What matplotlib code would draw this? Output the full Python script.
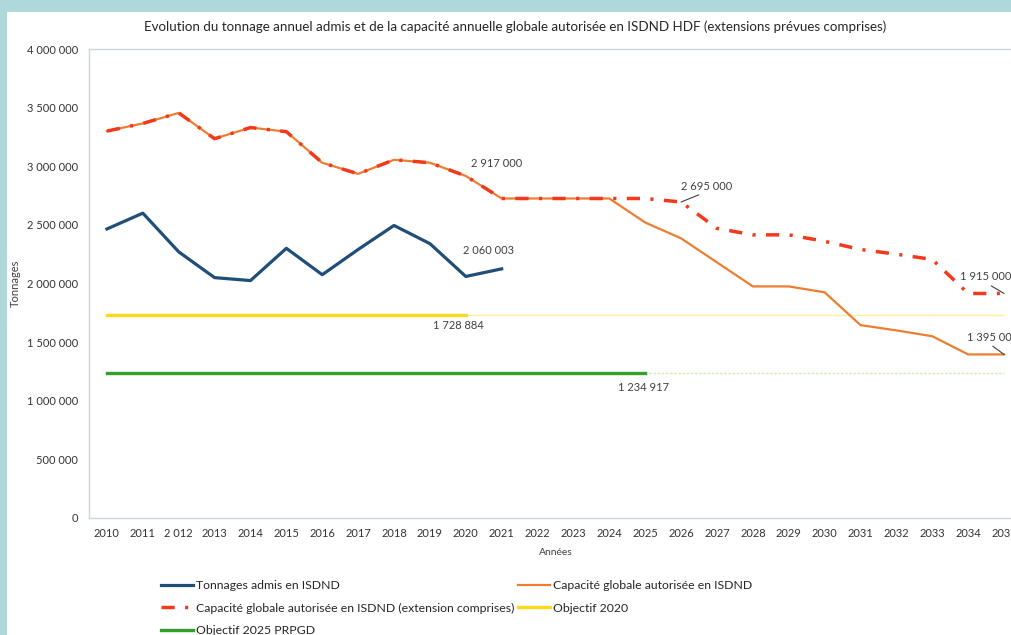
import numpy as np
import matplotlib
matplotlib.use("Agg")
import matplotlib.pyplot as plt
from matplotlib.patches import Rectangle
from matplotlib.ticker import FuncFormatter

# years shown on the x axis
years = list(range(2010, 2036))
year_labels = [str(y) for y in years]
year_labels[2] = "2 012"

# tonnages admis en ISDND (2010-2021)
tonnage_years = list(range(2010, 2022))
tonnage = [2465000, 2600000, 2270000, 2050000, 2025000, 2300000,
           2075000, 2290000, 2495000, 2340000, 2060003, 2125000]

# capacité globale autorisée en ISDND (2010-2035)
capacite = [3300000, 3365000, 3455000, 3235000, 3330000, 3295000,
            3030000, 2935000, 3055000, 3030000, 2917000, 2725000,
            2725000, 2725000, 2725000, 2520000, 2385000, 2180000,
            1975000, 1975000, 1925000, 1645000, 1600000, 1550000,
            1395000, 1395000]

# capacité globale autorisée, extensions comprises (2010-2035)
capacite_ext = [3300000, 3365000, 3455000, 3235000, 3330000, 3295000,
                3030000, 2935000, 3055000, 3030000, 2917000, 2725000,
                2725000, 2725000, 2725000, 2725000, 2695000, 2470000,
                2415000, 2415000, 2360000, 2290000, 2250000, 2205000,
                1915000, 1915000]

objectif_2020 = 1728884
objectif_2025 = 1234917
obj2020_years = list(range(2010, 2021))
obj2025_years = list(range(2010, 2026))

TXT = "#404040"
plt.rcParams['font.family'] = ['Lato', 'DejaVu Sans']

fig = plt.figure(figsize=(10.12, 6.35), dpi=100, facecolor="#afd8da")
fig.add_artist(Rectangle((7 / 1012, 0), 1, 1 - 12 / 635, transform=fig.transFigure,
                         facecolor="white", edgecolor="none", zorder=0))

ax = fig.add_axes([89 / 1012, 1 - 518 / 635, 933 / 1012, 469 / 635])
ax.set_facecolor("white")

# thin continuation of the objectives
ax.plot([years[0], years[-1]], [objectif_2020] * 2, color="#fff0a0", lw=1.0, zorder=1)
ax.plot([years[0], years[-1]], [objectif_2025] * 2, color="#d5ebbf", lw=1.0,
        ls=(0, (2, 1)), zorder=1)

ax.plot(years, capacite, color="#ed7d31", lw=1.6, zorder=3,
        label="Capacité globale autorisée en ISDND")
ax.plot(years, capacite_ext, color="#f2391c", lw=2.5, ls=(0, (3.8, 3.0, 0.9, 3.0)),
        zorder=4, label="Capacité globale autorisée en ISDND (extension comprises)")
ax.plot(tonnage_years, tonnage, color="#1f4e79", lw=2.3, zorder=5,
        label="Tonnages admis en ISDND")
ax.plot(obj2020_years, [objectif_2020] * len(obj2020_years), color="#ffd91a", lw=2.4,
        zorder=2, label="Objectif 2020")
ax.plot(obj2025_years, [objectif_2025] * len(obj2025_years), color="#33a02c", lw=2.4,
        zorder=2, label="Objectif 2025 PRPGD")

ax.set_xlim(2009.5, 2035.5)
ax.set_ylim(0, 4000000)
ax.set_xticks(years)
ax.set_xticklabels(year_labels)
ax.set_yticks(np.arange(0, 4000001, 500000))
ax.yaxis.set_major_formatter(FuncFormatter(lambda v, p: f"{int(v):,}".replace(",", " ")))
ax.tick_params(length=0, labelsize=8, colors="#333333", pad=8)
ax.tick_params(axis="x", pad=7)
for s in ax.spines.values():
    s.set_color("#c9d5dc")
    s.set_linewidth(1.0)

ax.set_xlabel("Années", fontsize=7.5, color=TXT, labelpad=7)
ax.set_ylabel("Tonnages", fontsize=8, color=TXT, labelpad=4)
fig.text(515 / 1012, 1 - 27 / 635,
         "Evolution du tonnage annuel admis et de la capacité annuelle globale autorisée "
         "en ISDND HDF (extensions prévues comprises)",
         ha="center", va="center", fontsize=9.6, color="#262626")

# value labels
lab = dict(fontsize=8, color=TXT, ha="center", va="center", textcoords="offset points")
ax.annotate("2 917 000", (2020, capacite[10]), xytext=(22, 9), **lab)
ax.annotate("2 060 003", (2020, tonnage[10]), xytext=(16, 19), **lab)
ax.annotate("1 728 884", (2020, objectif_2020), xytext=(-5, -7), **lab)
ax.annotate("1 234 917", (2025, objectif_2025), xytext=(-1.5, -10), **lab)
arrow = dict(arrowstyle="-", color=TXT, lw=0.8, shrinkA=1, shrinkB=0, relpos=(0.5, 0))
lab2 = dict(fontsize=8, color=TXT, ha="center", va="bottom", textcoords="offset points",
            arrowprops=arrow)
ax.annotate("2 695 000", (2026, capacite_ext[16]), xytext=(18.5, 7.5), **lab2)
ax.annotate("1 915 000", (2035, capacite_ext[-1]), xytext=(-13.5, 8), **lab2)
arrow2 = dict(arrow, relpos=(0.4, 0))
ax.annotate("1 395 000", (2035, capacite[-1]), xytext=(-8, 8.5),
            fontsize=8, color=TXT, ha="center", va="bottom", textcoords="offset points",
            arrowprops=arrow2)

# legend, Excel-like two columns
h, l = ax.get_legend_handles_labels()
order = [2, 1, 4, 0, 3]
leg = fig.legend([h[i] for i in order], [l[i] for i in order], ncol=2,
                 loc="upper left", bbox_to_anchor=(161 / 1012, 1 - 580 / 635),
                 frameon=False, fontsize=8.8, handlelength=2.6, handletextpad=0.25,
                 columnspacing=0.35, labelspacing=0.95, borderaxespad=0, borderpad=0)
for t in leg.get_texts():
    t.set_color("#262626")

fig.savefig("out.png", dpi=100, facecolor=fig.get_facecolor())
